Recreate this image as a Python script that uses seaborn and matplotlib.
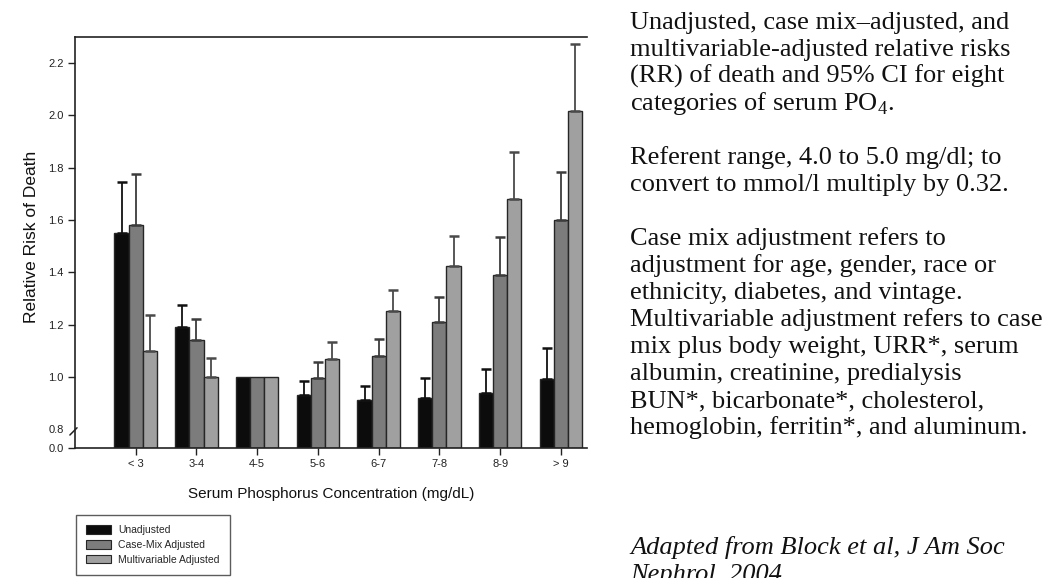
import numpy as np
import pandas as pd
import matplotlib
matplotlib.use("Agg")
import matplotlib.pyplot as plt
import matplotlib.transforms as mtransforms
import seaborn as sns
from matplotlib.patches import Patch
from matplotlib.container import BarContainer

# ---------------- data ----------------
categories = ['< 3', '3-4', '4-5', '5-6', '6-7', '7-8', '8-9', '> 9']
series_names = ['Unadjusted', 'Case-Mix Adjusted', 'Multivariable Adjusted']
unadjusted = [1.55, 1.19, 1.00, 0.93, 0.91, 0.92, 0.94, 0.99]
unadjusted_upper = [1.745, 1.275, 1.00, 0.985, 0.965, 0.995, 1.03, 1.11]
casemix = [1.58, 1.14, 1.00, 0.995, 1.08, 1.21, 1.39, 1.60]
casemix_upper = [1.775, 1.22, 1.00, 1.055, 1.145, 1.305, 1.535, 1.785]
multivariable = [1.10, 1.00, 1.00, 1.07, 1.25, 1.425, 1.68, 2.015]
multivariable_upper = [1.237, 1.073, 1.00, 1.133, 1.333, 1.538, 1.86, 2.272]
ytick_values = [0.0, 0.8, 1.0, 1.2, 1.4, 1.6, 1.8, 2.0, 2.2]

caption_lines = [
    "Unadjusted, case mix\u2013adjusted, and",
    "multivariable-adjusted relative risks",
    "(RR) of death and 95% CI for eight",
    "categories of serum PO$_{\\mathregular{4}}$.",
    "",
    "Referent range, 4.0 to 5.0 mg/dl; to",
    "convert to mmol/l multiply by 0.32.",
    "",
    "Case mix adjustment refers to",
    "adjustment for age, gender, race or",
    "ethnicity, diabetes, and vintage.",
    "Multivariable adjustment refers to case",
    "mix plus body weight, URR*, serum",
    "albumin, creatinine, predialysis",
    "BUN*, bicarbonate*, cholesterol,",
    "hemoglobin, ferritin*, and aluminum.",
]
source_lines = ["Adapted from Block et al, J Am Soc", "Nephrol, 2004"]

# ---------------- styling ----------------
sns.set_theme(style="white")
plt.rcParams['font.family'] = ['Liberation Sans', 'DejaVu Sans']
plt.rcParams['mathtext.fontset'] = 'custom'
plt.rcParams['mathtext.rm'] = 'Liberation Serif'

bar_colors = ['#0c0c0c', '#7c7c7c', '#a0a0a0']
err_colors = ['#111111', '#3c3c3c', '#4a4a4a']
edge = '#262626'

df = pd.DataFrame({
    'category': categories * 3,
    'series': sum([[s] * len(categories) for s in series_names], []),
    'rr': unadjusted + casemix + multivariable,
})
uppers = [unadjusted_upper, casemix_upper, multivariable_upper]
values = [unadjusted, casemix, multivariable]

W, H = 1053, 578
fig = plt.figure(figsize=(W / 100, H / 100), dpi=100)
ax = fig.add_axes([75 / W, 1 - 448 / H, (587 - 75) / W, (448 - 37) / H])

sns.barplot(data=df, x='category', y='rr', hue='series', order=categories,
            hue_order=series_names, palette=bar_colors, width=0.7,
            errorbar=None, edgecolor=edge, linewidth=1.0, saturation=1,
            legend=False, ax=ax)

bar_containers = [c for c in ax.containers if isinstance(c, BarContainer)]
# upper-only error bars placed at the drawn bar positions
for k, cont in enumerate(bar_containers):
    for i, p in enumerate(cont.patches):
        v = values[k][i]
        hi = uppers[k][i]
        if hi <= v:
            continue
        xc = p.get_x() + p.get_width() / 2
        ax.errorbar([xc], [v], yerr=[[0], [hi - v]], fmt='none',
                    ecolor=err_colors[k], elinewidth=1.3, capsize=3.4,
                    capthick=1.8, zorder=1)

# broken y axis: compress 0-0.8
k_comp = (19 / 262.75) / 0.8
def fwd(v):
    v = np.asarray(v, dtype=float)
    return np.where(v >= 0.8, v, 0.8 - (0.8 - v) * k_comp)
def inv(u):
    u = np.asarray(u, dtype=float)
    return np.where(u >= 0.8, u, 0.8 - (0.8 - u) / k_comp)
ax.set_yscale('function', functions=(fwd, inv))
ax.set_ylim(0, 2.3)
ax.set_xlim(-1.0, 7.43)
ax.set_yticks(ytick_values)
ax.set_yticklabels([f"{t:.1f}" for t in ytick_values])
ax.minorticks_off()

for s in ['left', 'bottom', 'top']:
    ax.spines[s].set_visible(True)
    ax.spines[s].set_color('#222222')
    ax.spines[s].set_linewidth(1.2)
ax.spines['right'].set_visible(False)

ax.tick_params(axis='both', which='major', direction='out', length=5, width=1,
               color='#222222', labelsize=8, pad=3, labelcolor='#222222',
               left=True, bottom=True)
# the 0.8 tick is replaced by the axis-break mark
ax.yaxis.get_major_ticks()[1].tick1line.set_visible(False)

ax.set_xlabel('Serum Phosphorus Concentration (mg/dL)', fontsize=11,
              labelpad=13, color='#111111')
ax.set_ylabel('Relative Risk of Death', fontsize=12.5, color='#111111')
ax.yaxis.set_label_coords(-36 / 512, 0.513)

# axis break mark
trans = mtransforms.blended_transform_factory(ax.transAxes, ax.transData)
ax.plot([-0.010, 0.004], [0.55, 0.805], transform=trans, color='#222222',
        lw=1.1, clip_on=False)

# legend
handles = [Patch(facecolor=c, edgecolor=edge, linewidth=0.8) for c in bar_colors]
leg = fig.legend(handles, series_names, loc='lower left',
                 bbox_to_anchor=(76 / W, 3 / H), fontsize=7.5,
                 frameon=True, fancybox=False, edgecolor='#333333',
                 handlelength=2.4, handleheight=0.95, labelspacing=0.45,
                 handletextpad=0.65, borderpad=1.0, borderaxespad=0)
leg.get_frame().set_linewidth(1.0)

# caption text on the right
serif = ['Liberation Serif', 'DejaVu Serif']
x0 = 630 / W
line_step = 27.0
base0 = 29.0
for i, line in enumerate(caption_lines):
    if line:
        fig.text(x0, 1 - (base0 + i * line_step) / H, line, family=serif,
                 fontsize=19, va='baseline', ha='left', color='#111111')
source_base = 554.0
for j, line in enumerate(source_lines):
    fig.text(x0, 1 - (source_base + j * line_step) / H, line,
             family=serif, style='italic', fontsize=19, va='baseline',
             ha='left', color='#111111')

fig.savefig('out.png', dpi=100, facecolor='white')
